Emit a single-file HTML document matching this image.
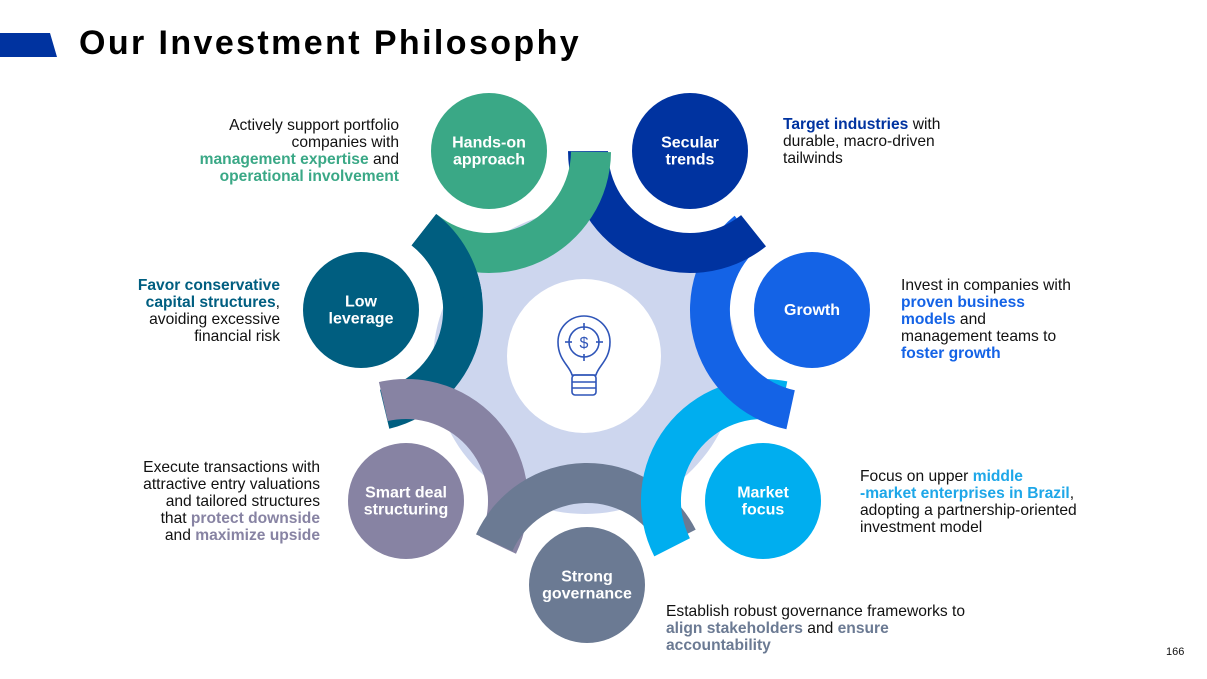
<!DOCTYPE html>
<html><head><meta charset="utf-8">
<style>
html,body{margin:0;padding:0;background:#fff;}
body{width:1207px;height:679px;position:relative;overflow:hidden;font-family:"Liberation Sans",Arial,sans-serif;}
.t{position:absolute;font-size:15.6px;line-height:17px;color:#111;}
.r{text-align:right}
b{font-weight:bold}
#title{position:absolute;left:79px;top:24px;font-size:34px;font-weight:bold;color:#000;letter-spacing:2.4px}
#bar{position:absolute;left:0;top:33px;width:57px;height:24px;background:#0033a0;clip-path:polygon(0 0,50px 0,57px 24px,0 24px)}
svg{position:absolute;left:0;top:0}
.pg{position:absolute;left:1166px;top:646px;font-size:11px;color:#111}
</style></head><body>
<div id="bar"></div>
<div id="title">Our Investment Philosophy</div>
<svg id="s" width="1207" height="679" viewBox="0 0 1207 679"></svg>

<div class="t r" style="right:808px;top:117px;">Actively support portfolio<br>companies with<br><b style="color:#3aa886">management expertise</b> and<br><b style="color:#3aa886">operational involvement</b></div>
<div class="t" style="left:783px;top:116px;"><b style="color:#0033a0">Target industries</b> with<br>durable, macro-driven<br>tailwinds</div>
<div class="t r" style="right:927px;top:277px;"><b style="color:#005e80">Favor conservative</b><br><b style="color:#005e80">capital structures</b>,<br>avoiding excessive<br>financial risk</div>
<div class="t" style="left:901px;top:277px;">Invest in companies with<br><b style="color:#1463e6">proven business</b><br><b style="color:#1463e6">models</b> and<br>management teams to<br><b style="color:#1463e6">foster growth</b></div>
<div class="t r" style="right:887px;top:459px;">Execute transactions with<br>attractive entry valuations<br>and tailored structures<br>that <b style="color:#8783a3">protect downside</b><br>and <b style="color:#8783a3">maximize upside</b></div>
<div class="t" style="left:860px;top:468px;">Focus on upper <b style="color:#1ea7e8">middle</b><br><b style="color:#1ea7e8">-market enterprises in Brazil</b>,<br>adopting a partnership-oriented<br>investment model</div>
<div class="t" style="left:666px;top:603px;">Establish robust governance frameworks to<br><b style="color:#6b7a93">align stakeholders</b> and <b style="color:#6b7a93">ensure</b><br><b style="color:#6b7a93">accountability</b></div>
<div class="pg">166</div>

<script>
var O=[585,362];
var N=[
 {n:"low",x:361,y:310,c:"#005e80",l:["Low","leverage"]},
 {n:"hands",x:489,y:151,c:"#3aa886",l:["Hands-on","approach"]},
 {n:"sec",x:690,y:151,c:"#0033a0",l:["Secular","trends"]},
 {n:"gro",x:812,y:310,c:"#1463e6",l:["Growth"]},
 {n:"mkt",x:763,y:501,c:"#00aeef",l:["Market","focus"]},
 {n:"str",x:587,y:585,c:"#6b7a93",l:["Strong","governance"]},
 {n:"smt",x:406,y:501,c:"#8783a3",l:["Smart deal","structuring"]}
];
var s=document.getElementById('s'),h='';
function arc(cx,cy,a1,a2,r1,r2,col){
 function p(r,a){a=a*Math.PI/180;return (cx+r*Math.cos(a)).toFixed(1)+','+(cy+r*Math.sin(a)).toFixed(1);}
 var lg=(a2-a1)>180?1:0;
 return '<path fill="'+col+'" d="M'+p(r2,a1)+' A'+r2+','+r2+' 0 '+lg+' 1 '+p(r2,a2)+' L'+p(r1,a2)+' A'+r1+','+r1+' 0 '+lg+' 0 '+p(r1,a1)+' Z"/>';
}
h+='<circle cx="'+O[0]+'" cy="'+O[1]+'" r="152" fill="#cdd6ee"/>';
var ang=N.map(function(d){return Math.atan2(O[1]-d.y,O[0]-d.x)*180/Math.PI;});
var order=[0,6,5,4,3,2,1];
order.forEach(function(i){var d=N[i];h+=arc(d.x,d.y,ang[i]-65,ang[i]+63.5,82,122,d.c);});
h+=arc(N[0].x,N[0].y,ang[0]-65,ang[0]-20,82,122,N[0].c);
N.forEach(function(d){h+='<circle cx="'+d.x+'" cy="'+d.y+'" r="58" fill="'+d.c+'"/>';
 var y0=d.y-(d.l.length-1)*8.5+5;
 d.l.forEach(function(t,k){h+='<text x="'+d.x+'" y="'+(y0+k*17)+'" text-anchor="middle" font-family="Liberation Sans,Arial,sans-serif" font-weight="bold" font-size="16" fill="#fff">'+t+'</text>';});
});
h+='<circle cx="584" cy="356" r="77" fill="#fff"/>';
h+='<g fill="none" stroke="#2f55b8" stroke-width="1.6">'+
 '<path d="M572,375 C570,366 558,360 558,342 A26,26 0 1 1 610,342 C610,360 598,366 596,375 Z"/>'+
 '<circle cx="584" cy="342" r="15"/><line x1="584" y1="323" x2="584" y2="330"/><line x1="584" y1="354" x2="584" y2="361"/>'+
 '<line x1="565" y1="342" x2="572" y2="342"/><line x1="596" y1="342" x2="603" y2="342"/>'+
 '<rect x="572" y="375" width="24" height="20" rx="3"/><line x1="572" y1="382" x2="596" y2="382"/><line x1="572" y1="388" x2="596" y2="388"/></g>'+
 '<text x="584" y="348" text-anchor="middle" font-family="Liberation Sans,Arial,sans-serif" font-size="16" fill="#2f55b8">$</text>';
s.innerHTML=h;
</script>
</body></html>
